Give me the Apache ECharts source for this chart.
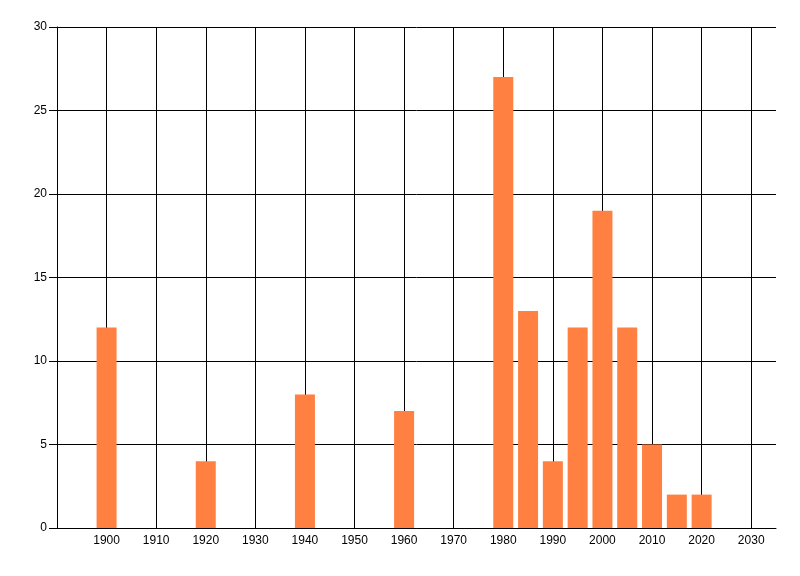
<!DOCTYPE html>
<html><head><meta charset="utf-8">
<script src="https://cdn.jsdelivr.net/npm/echarts@6/dist/echarts.min.js"></script>
<style>html,body{margin:0;padding:0;background:#fff}#c{width:800px;height:576px}</style>
</head><body><div id="c"></div>
<script>
const years = [1900, 1920, 1940, 1960, 1980, 1985, 1990, 1995, 2000, 2005, 2010, 2015, 2020];
const counts = [12, 4, 8, 7, 27, 13, 4, 12, 19, 12, 5, 2, 2];
const xMin = 1890, xMax = 2035, xStep = 10;
const yMin = 0, yMax = 30, yStep = 5;

// one colour per vertical grid line; the boundary line at xMax is hidden
const vCount = Math.floor((xMax - xMin) / xStep) + 2;
const vColors = Array.from({length: vCount}, (_, i) => i === vCount - 1 ? 'rgba(0,0,0,0)' : '#000');

const chart = echarts.init(document.getElementById('c'), null, {renderer: 'canvas'});
chart.setOption({
  animation: false,
  backgroundColor: '#ffffff',
  grid: {left: 57, right: 24, top: 27, bottom: 48, containLabel: false},
  xAxis: {
    type: 'value', min: xMin, max: xMax, interval: xStep,
    axisLine: {show: true, onZero: false, lineStyle: {color: '#000', width: 1}},
    axisTick: {show: false},
    splitLine: {show: true, lineStyle: {color: vColors, width: 1}},
    axisLabel: {
      color: '#000', fontFamily: 'Liberation Sans, Arial', fontSize: 12, margin: 7,
      showMinLabel: false, showMaxLabel: false,
      formatter: v => (v % 10 === 0 && v > xMin && v <= 2030) ? String(v) : ''
    }
  },
  yAxis: {
    type: 'value', min: yMin, max: yMax, interval: yStep,
    axisLine: {show: true, lineStyle: {color: '#000', width: 1}},
    axisTick: {show: true, length: 8, lineStyle: {color: '#000'}},
    splitLine: {show: true, lineStyle: {color: '#000', width: 1}},
    axisLabel: {color: '#000', fontFamily: 'Liberation Sans, Arial', fontSize: 12, margin: 10}
  },
  series: [{
    type: 'bar',
    data: years.map((y, i) => [y, counts[i]]),
    barWidth: 20,
    itemStyle: {color: '#FF8040'},
    z: 3
  }]
});
</script></body></html>
